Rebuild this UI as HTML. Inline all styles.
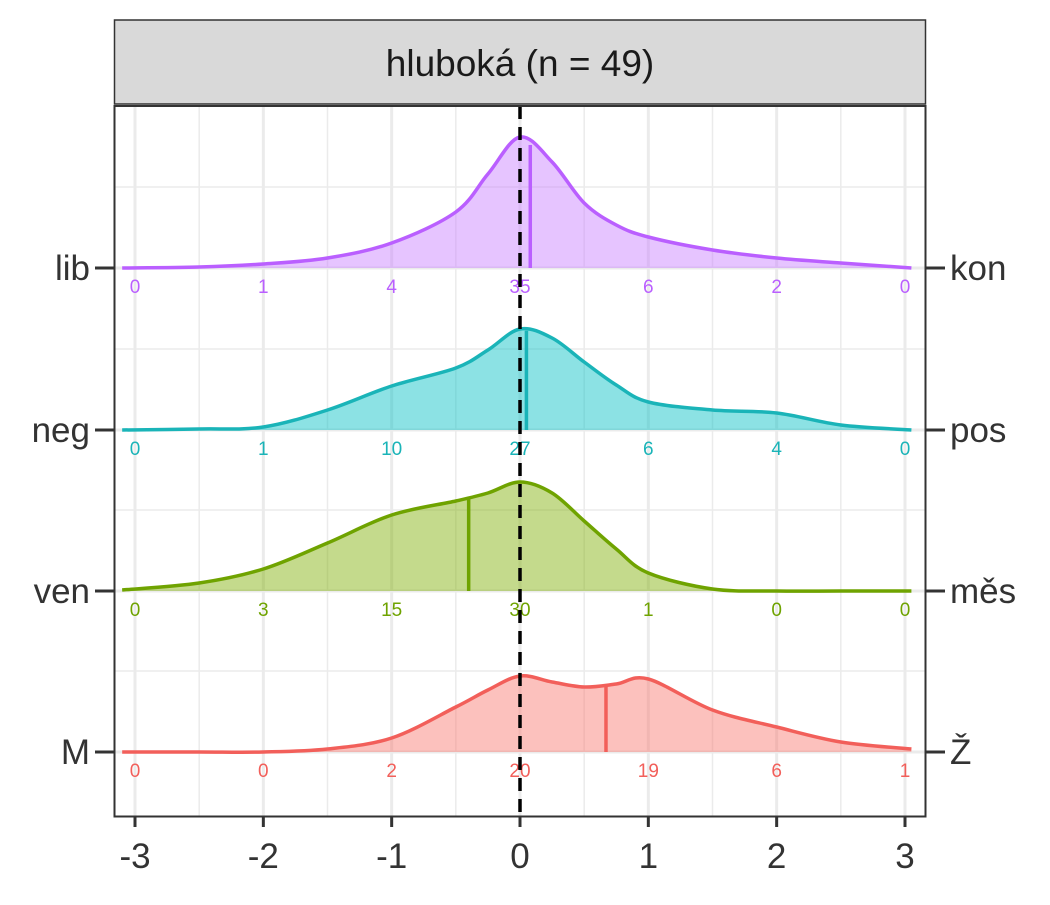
<!DOCTYPE html>
<html><head><meta charset="utf-8"><style>
body{margin:0;background:#fff;}
svg text{font-family:"Liberation Sans",Arial,sans-serif;}
</style></head><body>
<svg width="1050" height="900" xmlns="http://www.w3.org/2000/svg" id="chart">
<rect x="0" y="0" width="1050" height="900" fill="#fff"/>
<g id="grid"></g>
<g id="ridges"></g>
<line x1="520" y1="106" x2="520" y2="816" stroke="#000" stroke-width="3.5" stroke-dasharray="13,8"/>
<rect x="114.5" y="106" width="811" height="710.5" fill="none" stroke="#333" stroke-width="2"/>
<rect x="114.5" y="20" width="811" height="84" fill="#d9d9d9" stroke="#333" stroke-width="1.5"/>
<text x="520" y="76" font-size="37" text-anchor="middle" fill="#1a1a1a">hluboká (n = 49)</text>
<g id="axes"></g>
</svg>
<script>
const xTicks=[-3,-2,-1,0,1,2,3];
const groups=["lib","neg","ven","M"];
const rightLabels=["kon","pos","měs","Ž"];
const colors=["#C77CFF","#00BFC4","#7CAE00","#F8766D"];
const lineColors=["#BA5FFF","#1AB4B8","#6FA300","#F25F5A"];
const densX=[-3.1,-2.5,-2,-1.5,-1,-0.5,-0.25,0,0.25,0.5,0.75,1,1.5,2,2.5,3.05];
const densLib=[0,1,4,10,25,56,94,131,106,65,43,31,18,10,5,0];
const densNeg=[0,1,3,20,44,62,80,101,92,68,45,28,20,17,5,0];
const densVen=[1,8,22,48,76,90,98,109,98,70,42,18,2,0,0,0];
const densM=[0,0,0,3,14,45,62,76,70,65,68,73,42,25,10,3];
const dens=[densLib,densNeg,densVen,densM];
const means=[0.08,0.05,-0.4,0.67];
const counts=[[0,1,4,35,6,2,0],[0,1,10,27,6,4,0],[0,3,15,30,1,0,0],[0,0,2,20,19,6,1]];
const NS="http://www.w3.org/2000/svg";
const X=v=>520+v*128.33;
const base=[268,430,591,752];
function mk(tag,attrs,parent){const e=document.createElementNS(NS,tag);for(const k in attrs)e.setAttribute(k,attrs[k]);parent.appendChild(e);return e;}
const grid=document.getElementById('grid'),ridges=document.getElementById('ridges'),axes=document.getElementById('axes');
for(let v=-3;v<=3.01;v+=0.5){const l=mk('line',{x1:X(v),x2:X(v),y1:106,y2:816,stroke:'#ebebeb','stroke-width':Number.isInteger(v)?3:1.5},grid);

}
const hy=[187,268,349,430,510,591,671,752];
hy.forEach((y,i)=>{const l=mk('line',{x1:115,x2:925,y1:y,y2:y,stroke:'#ebebeb','stroke-width':i%2?3:1.5},grid);

});
function smooth(pts){let d=`M${pts[0][0]},${pts[0][1]}`;for(let i=0;i<pts.length-1;i++){const p0=pts[Math.max(0,i-1)],p1=pts[i],p2=pts[i+1],p3=pts[Math.min(pts.length-1,i+2)];
d+=` C${p1[0]+(p2[0]-p0[0])/6},${p1[1]+(p2[1]-p0[1])/6} ${p2[0]-(p3[0]-p1[0])/6},${p2[1]-(p3[1]-p1[1])/6} ${p2[0]},${p2[1]}`;}return d;}
function interp(arr,v){for(let i=0;i<densX.length-1;i++){if(v>=densX[i]&&v<=densX[i+1]){const t=(v-densX[i])/(densX[i+1]-densX[i]);return arr[i]+(arr[i+1]-arr[i])*t;}}return 0;}
groups.forEach((g,gi)=>{const b=base[gi],c=colors[gi],lc=lineColors[gi];
const pts=densX.map((v,i)=>[X(v),b-dens[gi][i]]);const d=smooth(pts);
const f=mk('path',{d:d+` L${X(densX[densX.length-1])},${b} L${X(densX[0])},${b} Z`,fill:c,'fill-opacity':0.45,stroke:'none'},ridges);


const s=mk('path',{d:d,fill:'none',stroke:lc,'stroke-width':3.5},ridges);


const m=mk('line',{x1:X(means[gi]),x2:X(means[gi]),y1:b,y2:b-interp(dens[gi],means[gi]),stroke:lc,'stroke-width':3.5},ridges);


counts[gi].forEach((n,i)=>{const t=mk('text',{x:X(xTicks[i]),y:b+25,'font-size':19,'text-anchor':'middle',fill:lc},ridges);t.textContent=n;

});
const tl=mk('line',{x1:95,x2:114,y1:b,y2:b,stroke:'#333','stroke-width':3},axes);


const tr=mk('line',{x1:926,x2:945,y1:b,y2:b,stroke:'#333','stroke-width':3},axes);


const ll=mk('text',{x:90,y:b+12,'font-size':35,'text-anchor':'end',fill:'#333'},axes);ll.textContent=g;


const lr=mk('text',{x:950,y:b+12,'font-size':35,'text-anchor':'start',fill:'#333'},axes);lr.textContent=rightLabels[gi];

});
xTicks.forEach(v=>{const l=mk('line',{x1:X(v),x2:X(v),y1:817,y2:827,stroke:'#333','stroke-width':3},axes);


const t=mk('text',{x:X(v),y:868,'font-size':35,'text-anchor':'middle',fill:'#333'},axes);t.textContent=v;

});
</script>
</body></html>
